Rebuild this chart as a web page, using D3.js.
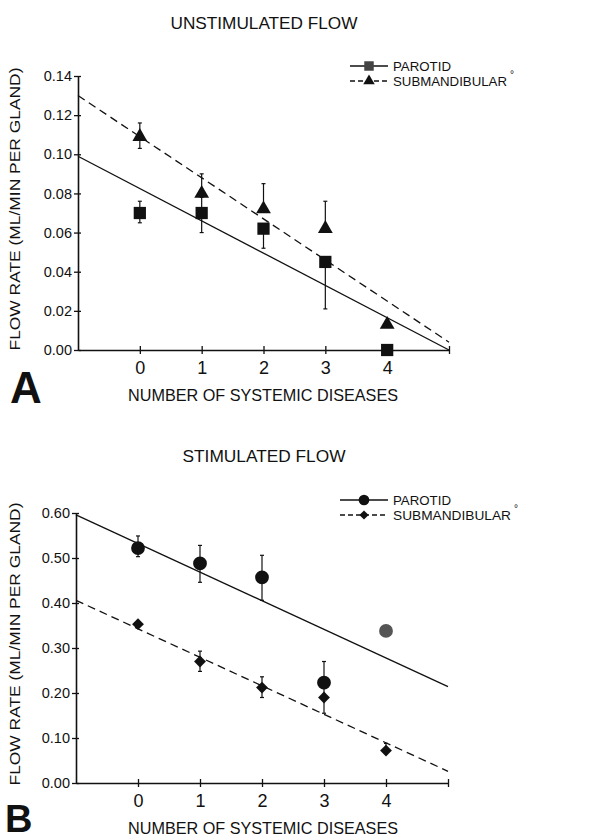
<!DOCTYPE html>
<html>
<head>
<meta charset="utf-8">
<script src="https://cdn.jsdelivr.net/npm/d3@7"></script>
<style>
  body { margin: 0; background: #fff; }
  text { font-family: "Liberation Sans", Arial, sans-serif; fill: #111; }
</style>
</head>
<body>
<svg width="604" height="840"></svg>
<script>
// x categories (number of systemic diseases)
let diseases = [0, 1, 2, 3, 4];

// Panel A - unstimulated flow
let unstimParotid = [0.070, 0.070, 0.062, 0.045, 0.000];
let unstimParotidLo = [0.065, 0.060, 0.052, 0.021, null];
let unstimParotidHi = [0.076, 0.078, null, null, null];
let unstimSubmand = [0.109, 0.080, 0.072, 0.062, 0.013];
let unstimSubmandLo = [0.103, null, null, null, null];
let unstimSubmandHi = [0.116, 0.090, 0.085, 0.076, null];
let unstimParotidFit = [0.099, 0.000];   // at x = -1 and x = 5
let unstimSubmandFit = [0.130, 0.004];
let unstimTicks = [0, 0.02, 0.04, 0.06, 0.08, 0.10, 0.12, 0.14];

// Panel B - stimulated flow
let stimParotid = [0.522, 0.488, 0.457, 0.223, 0.338];
let stimParotidLo = [0.503, 0.446, 0.406, null, null];
let stimParotidHi = [0.549, 0.528, 0.506, 0.270, null];
let stimSubmand = [0.353, 0.270, 0.212, 0.190, 0.072];
let stimSubmandLo = [null, 0.248, 0.190, 0.155, null];
let stimSubmandHi = [null, 0.293, 0.236, 0.210, 0.088];
let stimParotidFit = [0.596, 0.214];
let stimSubmandFit = [0.406, 0.026];
let stimTicks = [0, 0.10, 0.20, 0.30, 0.40, 0.50, 0.60];

let fitX = [-1, 5];

let svg = d3.select("svg");

let drawPanel = (opt) => {
    let g = svg.append("g");
    let xScale = d3.scaleLinear().domain([-1, 5]).range([opt.left, opt.right]);
    let yScale = d3.scaleLinear().domain([0, opt.ymax]).range([opt.bottom, opt.top]);

    // title
    g.append("text")
        .attr("x", 264).attr("y", opt.titleY)
        .attr("text-anchor", "middle")
        .attr("font-size", 17)
        .attr("textLength", opt.titleLen)
        .attr("lengthAdjust", "spacingAndGlyphs")
        .text(opt.title);

    // x axis
    let xAxis = d3.axisBottom(xScale)
        .tickValues([0, 1, 2, 3, 4, 5])
        .tickSize(0)
        .tickPadding(11)
        .tickFormat((d) => d === 5 ? "" : d);
    let gx = g.append("g")
        .attr("transform", "translate(0," + opt.bottom + ")")
        .call(xAxis);
    gx.select(".domain").attr("stroke", "#111").attr("stroke-width", 1.6);
    gx.selectAll(".tick line").attr("y1", -4).attr("y2", 4).attr("stroke", "#111").attr("stroke-width", 1.3);
    gx.selectAll(".tick text").attr("font-size", 18).attr("font-family", "Liberation Sans, Arial, sans-serif").attr("fill", "#111");

    // y axis
    let yAxis = d3.axisLeft(yScale)
        .tickValues(opt.ticks)
        .tickSize(0)
        .tickPadding(6)
        .tickFormat(d3.format(opt.fmt));
    let gy = g.append("g")
        .attr("transform", "translate(" + opt.left + ",0)")
        .call(yAxis);
    gy.select(".domain").attr("stroke", "#111").attr("stroke-width", 1.6);
    gy.selectAll(".tick line").attr("x1", -4).attr("x2", 3).attr("stroke", "#111").attr("stroke-width", 1.3);
    gy.selectAll(".tick text").attr("font-size", 14.5).attr("font-family", "Liberation Sans, Arial, sans-serif").attr("fill", "#111");

    // axis titles
    g.append("text")
        .attr("x", 263).attr("y", opt.bottom + 51)
        .attr("text-anchor", "middle")
        .attr("font-size", 17)
        .attr("textLength", 270)
        .attr("lengthAdjust", "spacingAndGlyphs")
        .text("NUMBER OF SYSTEMIC DISEASES");
    g.append("text")
        .attr("transform", "translate(20," + ((opt.top + opt.bottom) / 2 - 4) + ") rotate(-90)")
        .attr("text-anchor", "middle")
        .attr("font-size", 15.5)
        .attr("textLength", 283)
        .attr("lengthAdjust", "spacingAndGlyphs")
        .text("FLOW RATE (ML/MIN PER GLAND)");

    // panel letter
    g.append("text")
        .attr("x", opt.letterX).attr("y", opt.letterY)
        .attr("font-size", opt.letterSize)
        .attr("font-weight", "bold")
        .text(opt.letter);

    // regression lines
    let line = d3.line().x((d) => xScale(d[0])).y((d) => yScale(d[1]));
    opt.series.forEach((s) => {
        g.append("path")
            .attr("d", line(fitX.map((x, i) => [x, s.fit[i]])))
            .attr("fill", "none")
            .attr("stroke", "#111")
            .attr("stroke-width", 1.3)
            .attr("stroke-dasharray", s.dash ? "8,5" : null);
    });

    // error bars
    opt.series.forEach((s) => {
        diseases.forEach((d, i) => {
            [s.lo[i], s.hi[i]].forEach((e) => {
                if (e === null) return;
                g.append("line")
                    .attr("x1", xScale(d)).attr("x2", xScale(d))
                    .attr("y1", yScale(s.values[i])).attr("y2", yScale(e))
                    .attr("stroke", "#111").attr("stroke-width", 1.2);
                g.append("line")
                    .attr("x1", xScale(d) - 2).attr("x2", xScale(d) + 2)
                    .attr("y1", yScale(e)).attr("y2", yScale(e))
                    .attr("stroke", "#111").attr("stroke-width", 1.2);
            });
        });
    });

    // markers
    opt.series.forEach((s) => {
        g.selectAll(null)
            .data(s.values)
            .enter()
            .append("path")
            .attr("d", d3.symbol().type(s.symbol).size(s.size))
            .attr("transform", (v, i) => "translate(" + xScale(diseases[i]) + "," + yScale(v) + ")" + (s.rotate ? " rotate(45)" : ""))
            .attr("fill", (v, i) => (s.gray && s.gray[i]) ? "#555" : "#111");
    });

    // legend
    opt.series.forEach((s, k) => {
        let ly = opt.legendY + k * 15;
        g.append("line")
            .attr("x1", opt.legendX1).attr("x2", opt.legendX2)
            .attr("y1", ly).attr("y2", ly)
            .attr("stroke", "#111").attr("stroke-width", 1.3)
            .attr("stroke-dasharray", s.dash ? "5,3" : null);
        g.append("path")
            .attr("d", d3.symbol().type(s.symbol).size(s.size * 0.6))
            .attr("transform", "translate(" + ((opt.legendX1 + opt.legendX2) / 2) + "," + ly + ")" + (s.rotate ? " rotate(45)" : ""))
            .attr("fill", s.legendFill || "#111");
        g.append("text")
            .attr("x", opt.legendX2 + 5).attr("y", ly + 5)
            .attr("font-size", 13.5)
            .attr("textLength", s.textLen)
            .attr("lengthAdjust", "spacingAndGlyphs")
            .text(s.name);
        if (s.sup) {
            g.append("text")
                .attr("x", opt.legendX2 + 5 + s.textLen + 3).attr("y", ly - 3)
                .attr("font-size", 10)
                .text("°");
        }
    });
};

drawPanel({
    title: "UNSTIMULATED FLOW", titleY: 29, titleLen: 187,
    left: 78, right: 449, top: 76, bottom: 350, ymax: 0.14,
    ticks: unstimTicks, fmt: ".2f",
    letter: "A", letterX: 10, letterY: 403, letterSize: 44,
    legendX1: 350, legendX2: 388, legendY: 66,
    series: [
        { name: "PAROTID", textLen: 58, values: unstimParotid, lo: unstimParotidLo, hi: unstimParotidHi, fit: unstimParotidFit,
          symbol: d3.symbolSquare, size: 150, dash: false, legendFill: "#444" },
        { name: "SUBMANDIBULAR", textLen: 114, sup: true, values: unstimSubmand, lo: unstimSubmandLo, hi: unstimSubmandHi, fit: unstimSubmandFit,
          symbol: d3.symbolTriangle, size: 95, dash: true }
    ]
});

drawPanel({
    title: "STIMULATED FLOW", titleY: 462, titleLen: 163,
    left: 76, right: 448, top: 513, bottom: 783, ymax: 0.60,
    ticks: stimTicks, fmt: ".2f",
    letter: "B", letterX: 5, letterY: 832, letterSize: 38,
    legendX1: 340, legendX2: 388, legendY: 500,
    series: [
        { name: "PAROTID", textLen: 58, values: stimParotid, lo: stimParotidLo, hi: stimParotidHi, fit: stimParotidFit,
          symbol: d3.symbolCircle, size: 150, dash: false, gray: [false, false, false, false, true] },
        { name: "SUBMANDIBULAR", textLen: 118, sup: true, values: stimSubmand, lo: stimSubmandLo, hi: stimSubmandHi, fit: stimSubmandFit,
          symbol: d3.symbolSquare, size: 70, dash: true, rotate: true }
    ]
});
</script>
</body>
</html>
